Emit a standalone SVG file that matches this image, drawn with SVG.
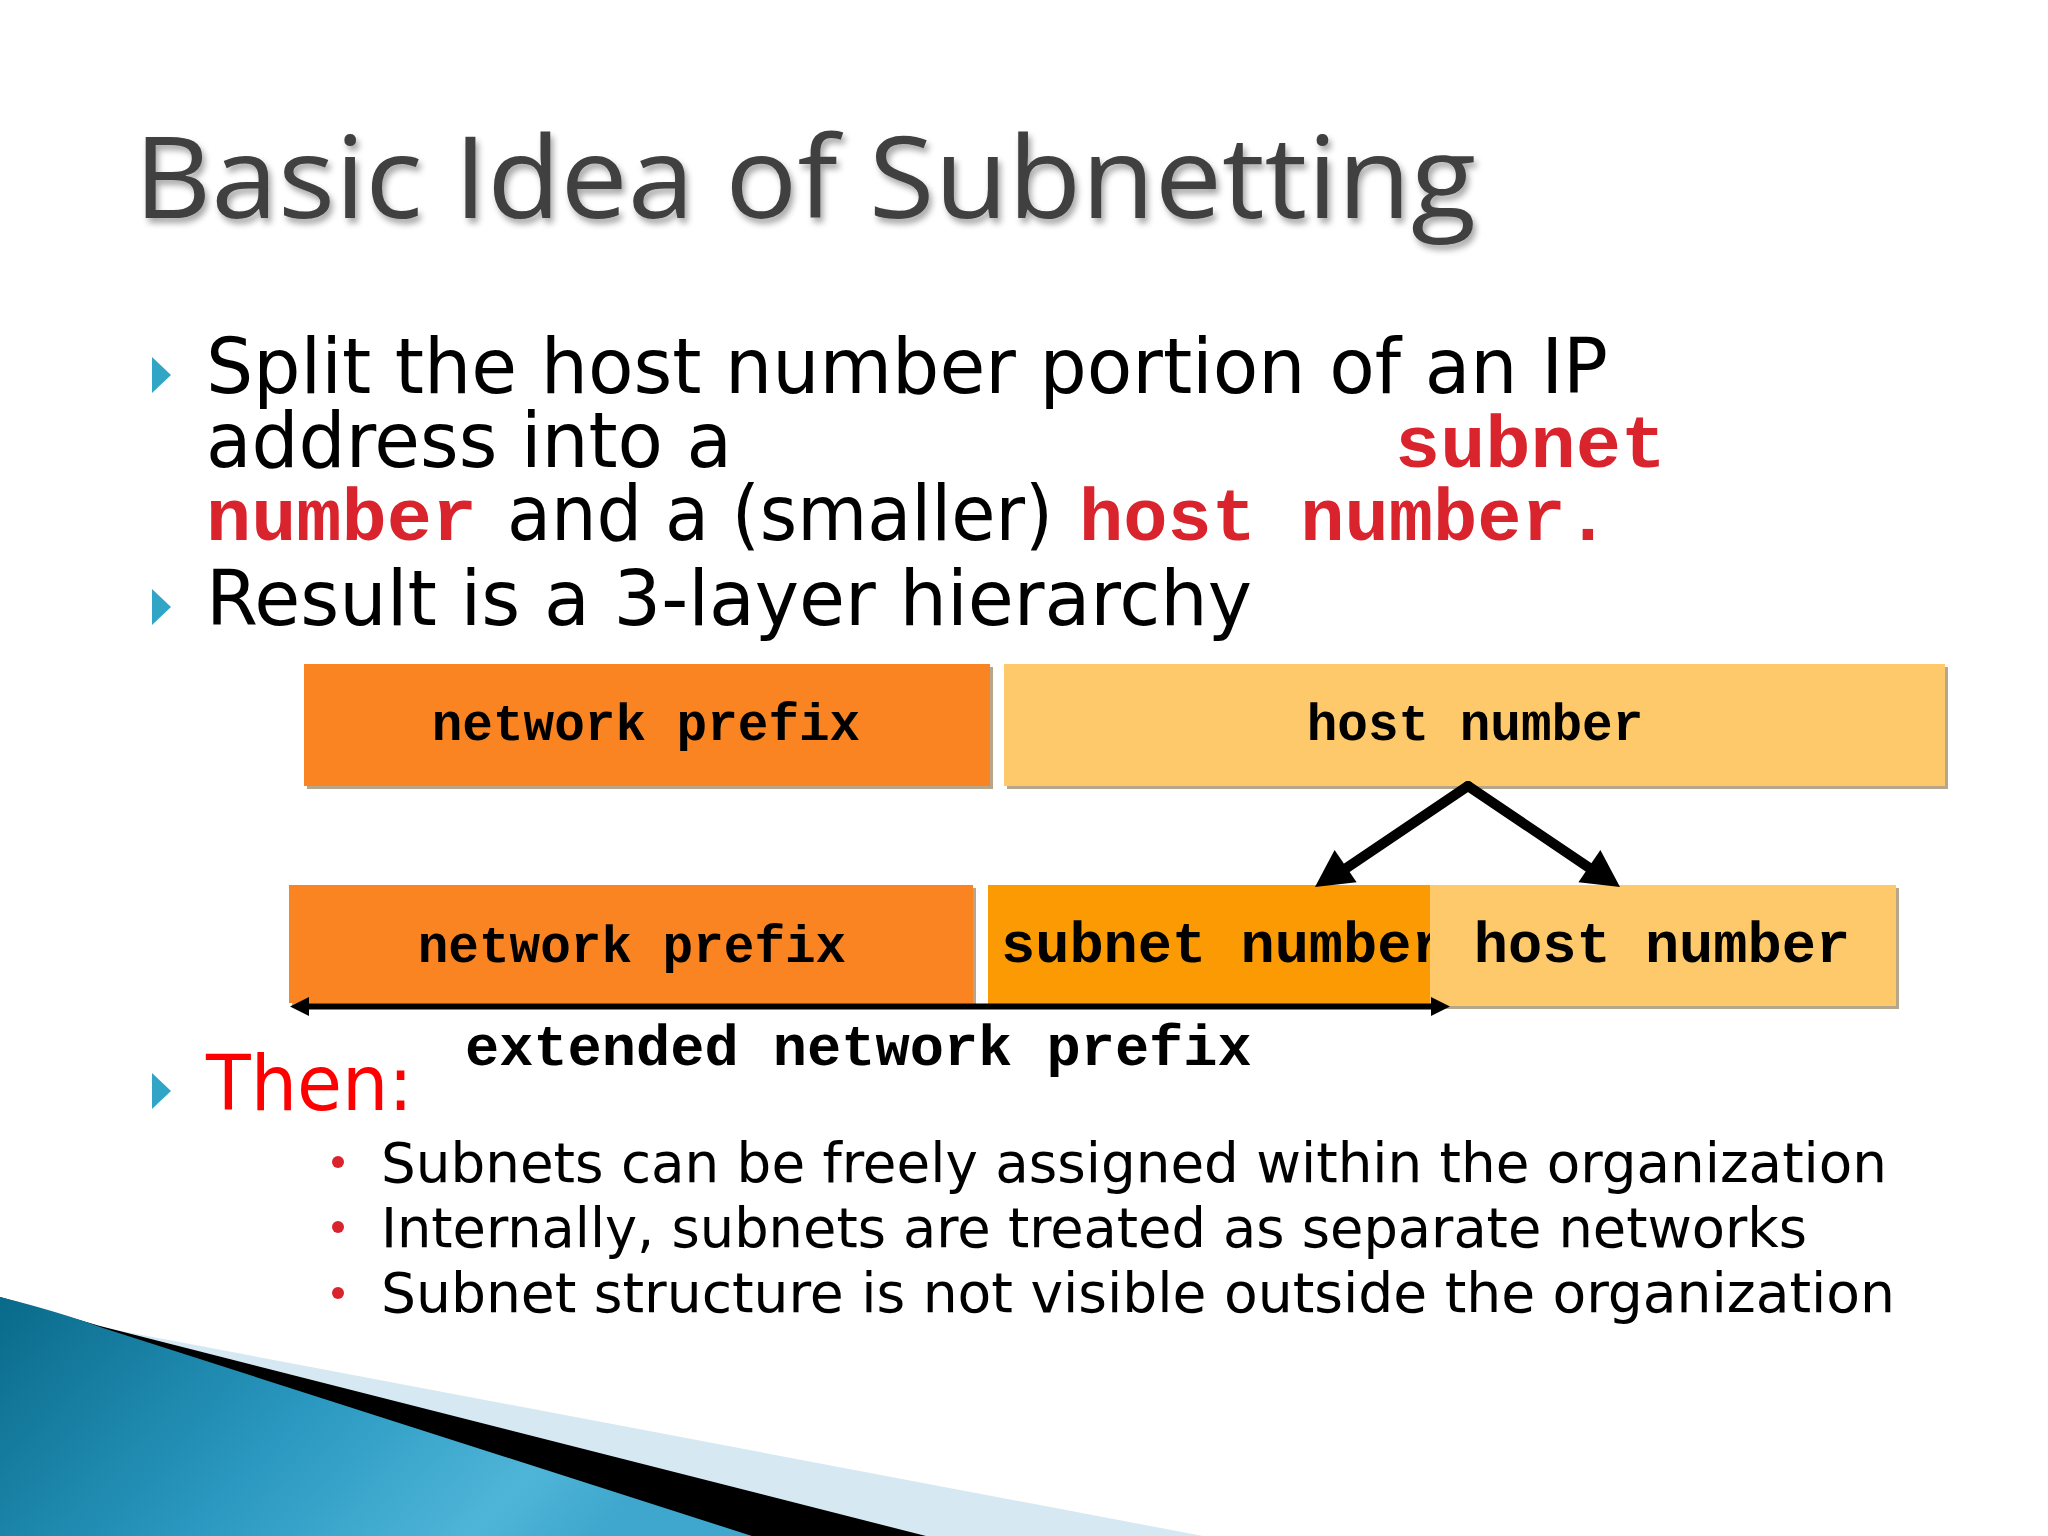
<svg xmlns="http://www.w3.org/2000/svg" width="2048" height="1536" viewBox="0 0 2048 1536">
<defs>
<style>
.bul{font-family:"DejaVu Sans Condensed","DejaVu Sans",sans-serif;font-stretch:condensed;font-size:76px;fill:#000}
.sub{font-family:"DejaVu Sans Condensed","DejaVu Sans",sans-serif;font-stretch:condensed;font-size:56px;fill:#000}
.mono{font-family:"Liberation Mono","Courier New",monospace;font-weight:bold}
.red{fill:#D9232D}
.lbl{font-family:"Liberation Mono","Courier New",monospace;font-weight:bold;fill:#000;text-anchor:middle}
.tri{fill:#31A5C6}
.shadow{fill:#9E8A66;opacity:0.75}
.orange{fill:#FA8421}
.light{fill:#FDC96A}
.subn{fill:#FC9A04}
</style>
<filter id="ts" x="-5%" y="-20%" width="110%" height="150%">
<feDropShadow dx="3" dy="5" stdDeviation="3" flood-color="#000" flood-opacity="0.35"/>
</filter>
<linearGradient id="blue" x1="0" y1="0" x2="1" y2="0.3">
<stop offset="0" stop-color="#096A8A"/>
<stop offset="0.5" stop-color="#2A98C0"/>
<stop offset="0.85" stop-color="#4FB5D8"/>
<stop offset="1" stop-color="#3FA7CD"/>
</linearGradient>
</defs>
<rect width="2048" height="1536" fill="#FFFFFF"/>

<!-- bottom-left decoration -->
<g id="decoration">
<polygon points="0,1297 100,1327 1203,1536 0,1536" fill="#D6E8F2"/>
<polygon points="0,1297 100,1326 926,1536 0,1536" fill="#000000"/>
<path d="M0,1297 Q60,1312 103,1328 L752,1536 L0,1536 Z" fill="url(#blue)"/>
</g>

<!-- title -->
<text x="134" y="218" font-family="'Open Sans','DejaVu Sans',sans-serif" font-size="114" fill="#404040" filter="url(#ts)" textLength="1342" lengthAdjust="spacingAndGlyphs">Basic Idea of Subnetting</text>

<!-- bullets -->
<polygon class="tri" points="152,357 171,375 152,393"/>
<text class="bul" x="206" y="393" textLength="1402" lengthAdjust="spacingAndGlyphs">Split the host number portion of an IP</text>
<text class="bul" x="206" y="467" textLength="526" lengthAdjust="spacingAndGlyphs">address into a</text>
<text class="mono red" x="1395" y="467" font-size="75" textLength="271" lengthAdjust="spacingAndGlyphs">subnet</text>
<text class="mono red" x="206" y="540" font-size="75" textLength="271" lengthAdjust="spacingAndGlyphs">number</text>
<text class="bul" x="507" y="540" textLength="546" lengthAdjust="spacingAndGlyphs">and a (smaller)</text>
<text class="mono red" x="1079" y="540" font-size="74" textLength="531" lengthAdjust="spacingAndGlyphs">host number.</text>
<polygon class="tri" points="152,589 171,607 152,625"/>
<text class="bul" x="206" y="625" textLength="1046" lengthAdjust="spacingAndGlyphs">Result is a 3-layer hierarchy</text>

<!-- row 1 -->
<g id="row1-network-prefix">
<rect class="shadow" x="307" y="667" width="686" height="122"/>
<rect class="orange" x="304" y="664" width="686" height="122"/>
<text class="lbl" x="646" y="740" font-size="51">network prefix</text>
</g>
<g id="row1-host-number">
<rect class="shadow" x="1007" y="667" width="941" height="122"/>
<rect class="light" x="1004" y="664" width="941" height="122"/>
<text class="lbl" x="1475" y="740" font-size="51">host number</text>
</g>

<!-- row 2 -->
<g id="row2-network-prefix">
<rect class="shadow" x="292" y="888" width="684" height="118"/>
<rect class="orange" x="289" y="885" width="684" height="118"/>
<text class="lbl" x="632" y="962" font-size="51">network prefix</text>
</g>
<g id="row2-subnet-number">
<rect class="subn" x="988" y="885" width="442" height="120"/>
<text x="1001" y="962" font-family="'Liberation Mono','Courier New',monospace" font-weight="bold" font-size="57" fill="#000">subnet number</text>
</g>
<g id="row2-host-number">
<rect class="shadow" x="1430" y="888" width="469" height="121"/>
<rect class="light" x="1430" y="885" width="466" height="121"/>
<text class="lbl" x="1662" y="962" font-size="57">host number</text>
</g>

<!-- connectors -->
<g id="connectors" fill="#000" stroke="#000">
<line x1="1468" y1="786" x2="1345" y2="869" stroke-width="10" stroke-linecap="round"/>
<polygon points="1315,887 1334.6,850.1 1356.6,882.3" stroke="none"/>
<line x1="1468" y1="786" x2="1591" y2="869" stroke-width="10" stroke-linecap="round"/>
<polygon points="1620,887 1600.4,850.1 1578.4,882.3" stroke="none"/>
<line x1="305" y1="1006.5" x2="1435" y2="1006.5" stroke-width="6"/>
<polygon points="290,1006.5 309,997 309,1016" stroke="none"/>
<polygon points="1450,1006.5 1431,997 1431,1016" stroke="none"/>
</g>

<text class="mono" x="465" y="1065" font-size="57" fill="#000">extended network prefix</text>

<!-- Then -->
<polygon class="tri" points="152,1073 171,1091 152,1109"/>
<text x="206" y="1110" font-family="'DejaVu Sans Condensed','DejaVu Sans',sans-serif" font-stretch="condensed" font-size="76" fill="#FF0000" textLength="207" lengthAdjust="spacingAndGlyphs">Then:</text>

<circle cx="338" cy="1162" r="6" fill="#D9232D"/>
<text class="sub" x="381" y="1182" textLength="1506" lengthAdjust="spacingAndGlyphs">Subnets can be freely assigned within the organization</text>
<circle cx="338" cy="1227" r="6" fill="#D9232D"/>
<text class="sub" x="381" y="1247" textLength="1426" lengthAdjust="spacingAndGlyphs">Internally, subnets are treated as separate networks</text>
<circle cx="338" cy="1293" r="6" fill="#D9232D"/>
<text class="sub" x="381" y="1312" textLength="1514" lengthAdjust="spacingAndGlyphs">Subnet structure is not visible outside the organization</text>
</svg>
